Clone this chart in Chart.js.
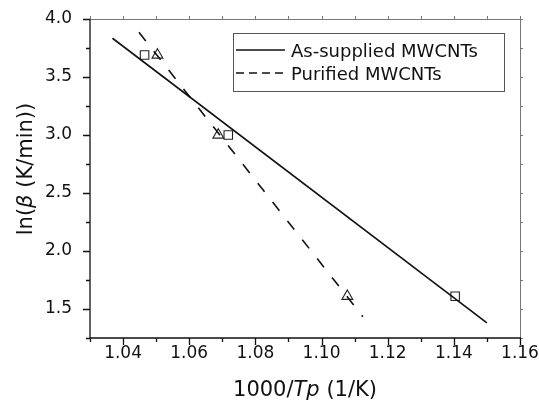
<!DOCTYPE html>
<html><head><meta charset="utf-8">
<script src="https://cdn.jsdelivr.net/npm/chart.js@4"></script>
<style>html,body{margin:0;padding:0;background:#fff}#wrap{width:539px;height:401px}</style>
</head><body><div id="wrap"><canvas id="c" width="539" height="401"></canvas></div>
<script>
const seriesNames = ['As-supplied MWCNTs', 'Purified MWCNTs'];
const asSuppliedX = [1.0465, 1.0718, 1.1404];
const asSuppliedY = [3.69, 3.00, 1.61];
const purifiedX = [1.0504, 1.0688, 1.1078];
const purifiedY = [3.69, 3.00, 1.61];
const asSuppliedFitX = [1.0368, 1.1500];
const asSuppliedFitY = [3.834, 1.38];
const purifiedFitX = [1.0448, 1.1125];
const purifiedFitY = [3.885, 1.434];
const xTickLabels = ['1.04', '1.06', '1.08', '1.10', '1.12', '1.14', '1.16'];
const yTickLabels = ['1.5', '2.0', '2.5', '3.0', '3.5', '4.0'];

const FONT = "'DejaVu Sans', sans-serif";
const pts = (xs, ys) => xs.map((v, i) => ({x: v, y: ys[i]}));
const isLabeled = (v, labels) => labels.some(l => Math.abs(parseFloat(l) - v) < 1e-6);
const labelFor = (v, labels) => { const l = labels.find(l => Math.abs(parseFloat(l) - v) < 1e-6); return l === undefined ? '' : l; };

function drawMixed(ctx, parts, cx, baseline, size) {
  let total = 0;
  parts.forEach(p => { ctx.font = (p.it ? 'italic ' : '') + size + 'px ' + FONT; p.w = ctx.measureText(p.t).width; total += p.w; });
  let x = cx - total / 2;
  ctx.textAlign = 'left'; ctx.textBaseline = 'alphabetic';
  parts.forEach(p => { ctx.font = (p.it ? 'italic ' : '') + size + 'px ' + FONT; ctx.fillText(p.t, x, baseline); x += p.w; });
}

const framePlugin = {
  id: 'frame',
  afterDraw(chart) {
    const {ctx, chartArea: a, scales: {x, y}} = chart;
    ctx.save();
    ctx.strokeStyle = '#777'; ctx.lineWidth = 1;
    ctx.beginPath();
    ctx.moveTo(a.left, a.top + 0.5); ctx.lineTo(a.right + 0.5, a.top + 0.5); ctx.lineTo(a.right + 0.5, a.bottom);
    x.ticks.forEach(t => { const px = Math.round(x.getPixelForValue(t.value)) + 0.5; ctx.moveTo(px, a.top); ctx.lineTo(px, a.top - 3); });
    y.ticks.forEach(t => { const py = Math.round(y.getPixelForValue(t.value)) + 0.5; ctx.moveTo(a.right, py); ctx.lineTo(a.right + 3, py); });
    ctx.stroke();
    ctx.strokeStyle = '#111'; ctx.lineWidth = 1.3;
    ctx.beginPath();
    ctx.moveTo(a.left, a.top); ctx.lineTo(a.left, a.bottom); ctx.lineTo(a.right + 1, a.bottom);
    x.ticks.forEach(t => { const px = Math.round(x.getPixelForValue(t.value)) + 0.5; const L = isLabeled(t.value, xTickLabels) ? 7 : 4; ctx.moveTo(px, a.bottom); ctx.lineTo(px, a.bottom + L); });
    y.ticks.forEach(t => { const py = Math.round(y.getPixelForValue(t.value)) + 0.5; const L = isLabeled(t.value, yTickLabels) ? 7 : 4; ctx.moveTo(a.left, py); ctx.lineTo(a.left - L, py); });
    ctx.stroke();
    ctx.fillStyle = '#111';
    drawMixed(ctx, [{t: '1000/'}, {t: 'Tp', it: true}, {t: ' (1/K)'}], (a.left + a.right) / 2, 396, 21);
    ctx.save();
    ctx.translate(32, 169); ctx.rotate(-Math.PI / 2);
    drawMixed(ctx, [{t: 'ln('}, {t: 'β', it: true}, {t: ' (K/min))'}], 0, 0, 21);
    ctx.restore();
    ctx.fillStyle = '#fff';
    ctx.fillRect(233, 33, 271, 58);
    ctx.strokeStyle = '#555'; ctx.lineWidth = 1;
    ctx.strokeRect(233.5, 33.5, 271, 58);
    ctx.strokeStyle = '#111'; ctx.lineWidth = 1.5;
    ctx.beginPath(); ctx.moveTo(236, 50); ctx.lineTo(285, 50); ctx.stroke();
    ctx.setLineDash([8, 5]);
    ctx.beginPath(); ctx.moveTo(236, 73); ctx.lineTo(285, 73); ctx.stroke();
    ctx.setLineDash([]);
    ctx.fillStyle = '#111';
    ctx.font = '18px ' + FONT; ctx.textAlign = 'left'; ctx.textBaseline = 'alphabetic';
    ctx.fillText(seriesNames[0], 291, 57);
    ctx.fillText(seriesNames[1], 291, 80);
    ctx.restore();
  }
};

new Chart(document.getElementById('c'), {
  type: 'scatter',
  data: {
    datasets: [
      {label: seriesNames[0] + ' fit', data: pts(asSuppliedFitX, asSuppliedFitY), showLine: true, borderColor: '#111', borderWidth: 1.6, pointRadius: 0, fill: false},
      {label: seriesNames[1] + ' fit', data: pts(purifiedFitX, purifiedFitY), showLine: true, borderColor: '#111', borderWidth: 1.6, borderDash: [11, 13], pointRadius: 0, fill: false},
      {label: seriesNames[0], data: pts(asSuppliedX, asSuppliedY), pointStyle: 'rect', pointRadius: 6, borderColor: '#222', borderWidth: 1.1, backgroundColor: 'rgba(0,0,0,0)'},
      {label: seriesNames[1], data: pts(purifiedX, purifiedY), pointStyle: 'triangle', pointRadius: 6.3, borderColor: '#222', borderWidth: 1.1, backgroundColor: 'rgba(0,0,0,0)'}
    ]
  },
  options: {
    responsive: false, animation: false, devicePixelRatio: 1,
    layout: {padding: {top: 19, right: 19, left: 0, bottom: 0}},
    plugins: {legend: {display: false}, tooltip: {enabled: false}},
    scales: {
      x: {
        type: 'linear', min: 1.03, max: 1.16,
        grid: {display: false, drawTicks: false}, border: {display: false},
        ticks: {stepSize: 0.01, autoSkip: false, maxRotation: 0, padding: 5, color: '#111', font: {family: FONT, size: 17},
          callback: v => labelFor(v, xTickLabels)},
        afterFit(s) { s.height = 63; s.paddingLeft = 0; s.paddingRight = 0; }
      },
      y: {
        type: 'linear', min: 1.25, max: 4.0,
        grid: {display: false, drawTicks: false}, border: {display: false},
        ticks: {stepSize: 0.25, autoSkip: false, padding: 18, color: '#111', font: {family: FONT, size: 17},
          callback: v => labelFor(v, yTickLabels)},
        afterFit(s) { s.width = 90; s.paddingTop = 0; s.paddingBottom = 0; }
      }
    }
  },
  plugins: [framePlugin]
});
</script></body></html>
